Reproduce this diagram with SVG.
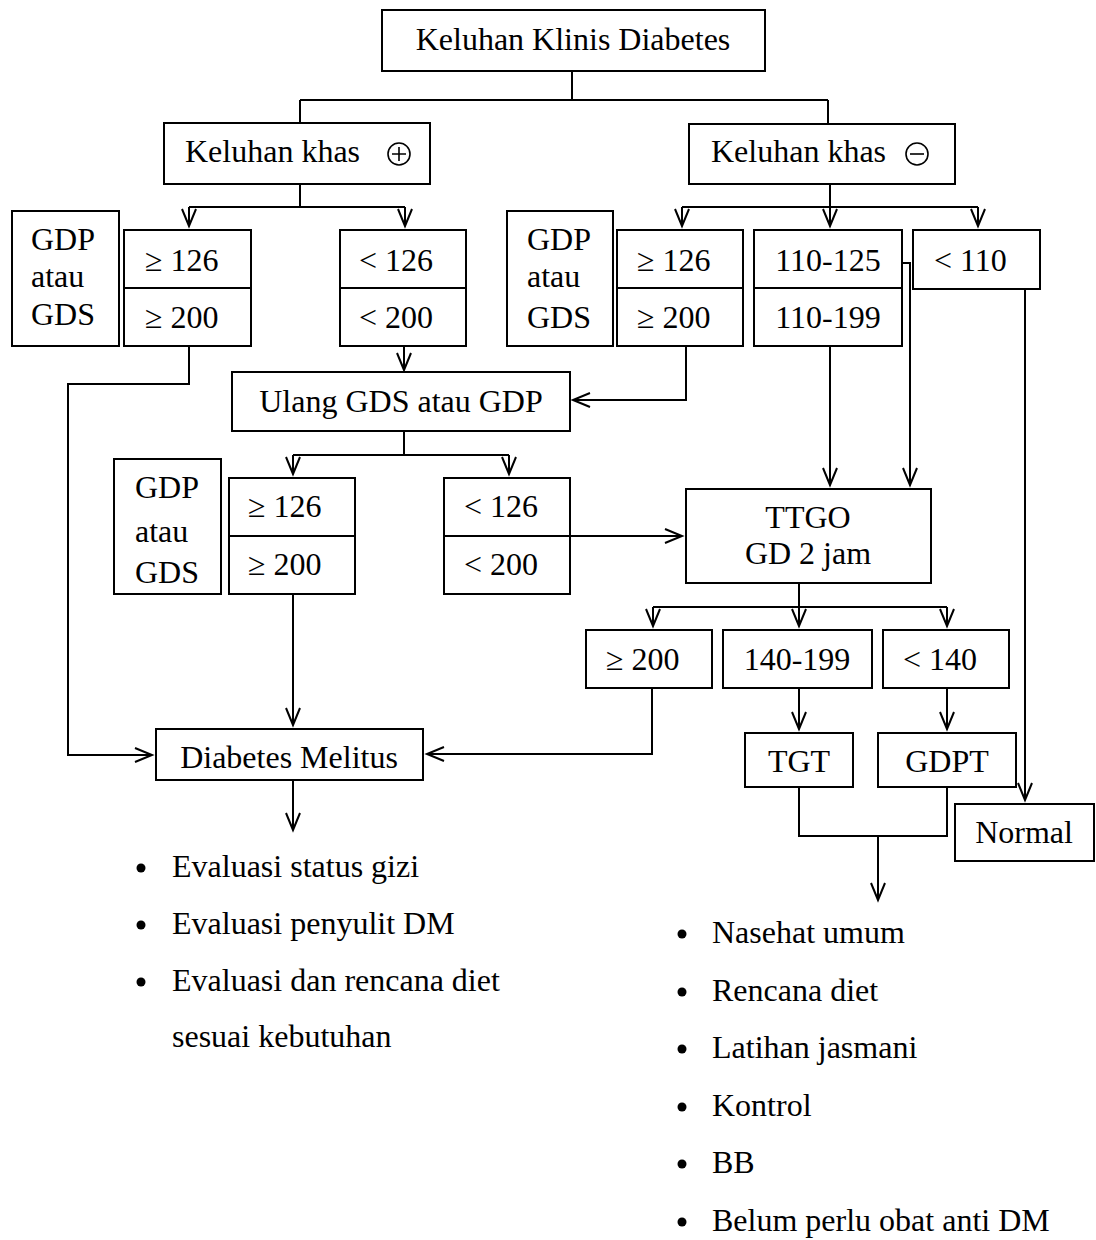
<svg xmlns="http://www.w3.org/2000/svg" width="1096" height="1240" viewBox="0 0 1096 1240">
<style>
.box{fill:#fff;stroke:#000;stroke-width:2}
.t{font-family:"Liberation Serif","Times New Roman",serif;font-size:32px;fill:#000}
.m{text-anchor:middle}
.c{fill:none;stroke:#000;stroke-width:2}
.sym{fill:none;stroke:#000;stroke-width:1.6}
</style>
<defs>
<marker id="ah" markerUnits="userSpaceOnUse" markerWidth="20" markerHeight="20" refX="0" refY="0" orient="auto" overflow="visible">
<path d="M-17,-7 L0,0 L-17,7" fill="none" stroke="#000" stroke-width="2"/>
</marker>
</defs>
<rect width="1096" height="1240" fill="#fff"/>
<g id="connectors">
<path class="c" d="M572,71 V100 M300,100 H828 M300,100 V123 M828,100 V124"/>
<path class="c" d="M300,184 V207 M189,207 H405"/>
<path class="c" d="M189,207 V226" marker-end="url(#ah)"/>
<path class="c" d="M405,207 V226" marker-end="url(#ah)"/>
<path class="c" d="M830,184 V207 M682,207 H978"/>
<path class="c" d="M682,207 V226" marker-end="url(#ah)"/>
<path class="c" d="M830,207 V226" marker-end="url(#ah)"/>
<path class="c" d="M978,207 V226" marker-end="url(#ah)"/>
<path class="c" d="M189,346 V384 H68 V755 H152" marker-end="url(#ah)"/>
<path class="c" d="M404,346 V370" marker-end="url(#ah)"/>
<path class="c" d="M686,346 V400 H573" marker-end="url(#ah)"/>
<path class="c" d="M830,346 V485" marker-end="url(#ah)"/>
<path class="c" d="M902,263 H910 V485" marker-end="url(#ah)"/>
<path class="c" d="M1025,289 V800" marker-end="url(#ah)"/>
<path class="c" d="M404,431 V455 M293,455 H509"/>
<path class="c" d="M293,455 V474" marker-end="url(#ah)"/>
<path class="c" d="M509,455 V474" marker-end="url(#ah)"/>
<path class="c" d="M293,594 V725" marker-end="url(#ah)"/>
<path class="c" d="M570,536 H682" marker-end="url(#ah)"/>
<path class="c" d="M799,583 V607 M653,607 H947"/>
<path class="c" d="M653,607 V626" marker-end="url(#ah)"/>
<path class="c" d="M799,607 V626" marker-end="url(#ah)"/>
<path class="c" d="M947,607 V626" marker-end="url(#ah)"/>
<path class="c" d="M652,688 V754 H427" marker-end="url(#ah)"/>
<path class="c" d="M799,688 V729" marker-end="url(#ah)"/>
<path class="c" d="M947,688 V729" marker-end="url(#ah)"/>
<path class="c" d="M799,787 V836 H947 V787 M878,836 V900" marker-end="url(#ah)"/>
<path class="c" d="M293,780 V830" marker-end="url(#ah)"/>
</g>
<g id="n-title"><rect class="box" x="382" y="10" width="383" height="61"/><text class="t m" x="573" y="50">Keluhan Klinis Diabetes</text></g>
<g id="n-khas-pos"><rect class="box" x="164" y="123" width="266" height="61"/><text class="t" x="185" y="162">Keluhan khas</text><circle class="sym" cx="399" cy="154" r="11"/><path class="sym" d="M392,154 H406 M399,147 V161"/></g>
<g id="n-khas-neg"><rect class="box" x="689" y="124" width="266" height="60"/><text class="t" x="711" y="162">Keluhan khas</text><circle class="sym" cx="917" cy="154" r="11"/><path class="sym" d="M910,154 H924"/></g>
<g id="n-gdp1"><rect class="box" x="12" y="211" width="107" height="135"/><text class="t" x="31" y="250">GDP</text><text class="t" x="31" y="287">atau</text><text class="t" x="31" y="325">GDS</text></g>
<g id="n-ge1"><rect class="box" x="124" y="230" width="127" height="116"/><line class="c" x1="124" y1="288" x2="251" y2="288"/><text class="t" x="145" y="271">≥ 126</text><text class="t" x="145" y="328">≥ 200</text></g>
<g id="n-lt1"><rect class="box" x="340" y="230" width="126" height="116"/><line class="c" x1="340" y1="288" x2="466" y2="288"/><text class="t" x="359" y="271">&lt; 126</text><text class="t" x="359" y="328">&lt; 200</text></g>
<g id="n-gdp2"><rect class="box" x="507" y="211" width="106" height="135"/><text class="t" x="527" y="250">GDP</text><text class="t" x="527" y="287">atau</text><text class="t" x="527" y="328">GDS</text></g>
<g id="n-ge2"><rect class="box" x="617" y="230" width="126" height="116"/><line class="c" x1="617" y1="288" x2="743" y2="288"/><text class="t" x="637" y="271">≥ 126</text><text class="t" x="637" y="328">≥ 200</text></g>
<g id="n-mid"><rect class="box" x="754" y="230" width="148" height="116"/><line class="c" x1="754" y1="288" x2="902" y2="288"/><text class="t m" x="828" y="271">110-125</text><text class="t m" x="828" y="328">110-199</text></g>
<g id="n-lt110"><rect class="box" x="913" y="230" width="127" height="59"/><text class="t" x="934" y="271">&lt; 110</text></g>
<g id="n-ulang"><rect class="box" x="232" y="372" width="338" height="59"/><text class="t m" x="401" y="412">Ulang GDS atau GDP</text></g>
<g id="n-gdp3"><rect class="box" x="114" y="459" width="107" height="135"/><text class="t" x="135" y="498">GDP</text><text class="t" x="135" y="542">atau</text><text class="t" x="135" y="583">GDS</text></g>
<g id="n-ge3"><rect class="box" x="229" y="478" width="126" height="116"/><line class="c" x1="229" y1="536" x2="355" y2="536"/><text class="t" x="248" y="517">≥ 126</text><text class="t" x="248" y="575">≥ 200</text></g>
<g id="n-lt3"><rect class="box" x="444" y="478" width="126" height="116"/><line class="c" x1="444" y1="536" x2="570" y2="536"/><text class="t" x="464" y="517">&lt; 126</text><text class="t" x="464" y="575">&lt; 200</text></g>
<g id="n-ttgo"><rect class="box" x="686" y="489" width="245" height="94"/><text class="t m" x="808" y="528">TTGO</text><text class="t m" x="808" y="564">GD 2 jam</text></g>
<g id="n-ge200"><rect class="box" x="586" y="630" width="126" height="58"/><text class="t" x="606" y="670">≥ 200</text></g>
<g id="n-140199"><rect class="box" x="723" y="630" width="149" height="58"/><text class="t m" x="797" y="670">140-199</text></g>
<g id="n-lt140"><rect class="box" x="883" y="630" width="126" height="58"/><text class="t" x="903" y="670">&lt; 140</text></g>
<g id="n-tgt"><rect class="box" x="745" y="733" width="108" height="54"/><text class="t m" x="799" y="772">TGT</text></g>
<g id="n-gdpt"><rect class="box" x="878" y="733" width="138" height="54"/><text class="t m" x="947" y="772">GDPT</text></g>
<g id="n-normal"><rect class="box" x="955" y="804" width="139" height="57"/><text class="t m" x="1024" y="843">Normal</text></g>
<g id="n-dm"><rect class="box" x="156" y="729" width="267" height="51"/><text class="t m" x="289" y="768">Diabetes Melitus</text></g>
<g id="n-list-dm">
<circle cx="141" cy="868" r="4.5"/><text class="t" x="172" y="877">Evaluasi status gizi</text>
<circle cx="141" cy="925" r="4.5"/><text class="t" x="172" y="934">Evaluasi penyulit DM</text>
<circle cx="141" cy="982" r="4.5"/><text class="t" x="172" y="991">Evaluasi dan rencana diet</text>
<text class="t" x="172" y="1047">sesuai kebutuhan</text>
</g>
<g id="n-list-tgt">
<circle cx="682" cy="934" r="4.5"/><text class="t" x="712" y="943">Nasehat umum</text>
<circle cx="682" cy="992" r="4.5"/><text class="t" x="712" y="1001">Rencana diet</text>
<circle cx="682" cy="1049" r="4.5"/><text class="t" x="712" y="1058">Latihan jasmani</text>
<circle cx="682" cy="1107" r="4.5"/><text class="t" x="712" y="1116">Kontrol</text>
<circle cx="682" cy="1164" r="4.5"/><text class="t" x="712" y="1173">BB</text>
<circle cx="682" cy="1222" r="4.5"/><text class="t" x="712" y="1231">Belum perlu obat anti DM</text>
</g>
</svg>
